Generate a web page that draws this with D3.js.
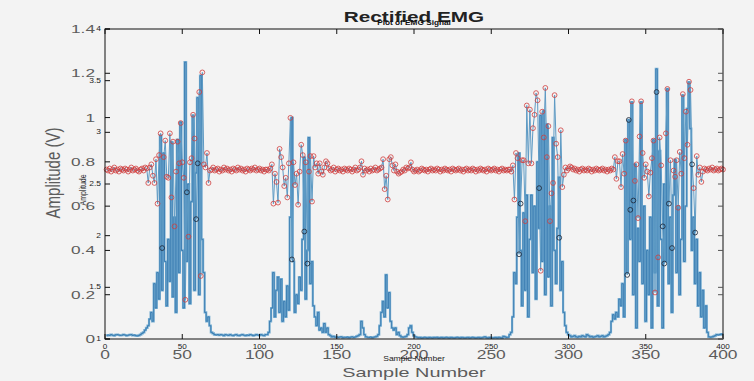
<!DOCTYPE html>
<html><head><meta charset="utf-8">
<script src="https://cdn.jsdelivr.net/npm/d3@7"></script>
<style>html,body{margin:0;padding:0;background:#f3f3f3;}svg{display:block;}</style>
</head><body>
<script>
// ---- data (sample index 1..400) ----
const rawEMG = [
2.64,2.63,2.65,2.62,2.64,2.66,2.63,2.64,2.62,2.65,2.64,2.63,2.65,2.64,2.62,2.64,2.66,2.63,2.64,2.65,2.63,2.62,2.64,2.65,2.63,2.66,2.65,
2.51,2.66,2.69,2.58,2.51,2.74,2.31,2.78,2.99,1.88,2.76,2.92,2.57,2.56,2.99,2.37,2.91,2.09,2.62,2.91,2.70,3.09,2.71,2.56,1.38,2.42,1.99,2.71,2.75,3.17,2.94,2.16,2.70,3.39,1.61,3.58,2.69,2.66,2.80,2.51,2.63,
2.64,2.66,2.63,2.64,2.65,2.62,2.64,2.63,2.66,2.64,2.65,2.63,2.64,2.62,2.65,2.64,2.63,2.66,2.64,2.65,2.63,2.64,2.62,2.65,2.64,2.63,2.65,2.64,2.66,2.63,2.64,2.65,2.63,2.64,2.62,2.64,
2.64,2.63,2.65,2.69,2.31,2.60,2.52,2.32,2.84,2.76,2.66,2.48,2.56,2.37,2.70,3.14,1.77,2.71,2.49,2.60,2.30,2.62,2.88,2.78,2.04,2.71,1.73,2.62,2.77,2.33,2.77,2.66,2.70,2.60,2.70,2.62,2.59,2.66,2.72,2.70,2.65,
2.63,2.64,2.66,2.62,2.64,2.65,2.63,2.64,2.62,2.65,2.64,2.63,2.65,2.64,2.62,2.64,2.66,2.63,2.64,
2.66,2.72,2.59,2.65,2.63,2.64,2.62,2.65,2.63,2.64,2.66,2.63,2.64,2.65,2.66,2.74,2.45,2.58,2.35,2.74,2.76,2.68,2.63,2.69,2.62,2.60,2.61,2.62,2.64,2.63,2.66,2.65,2.66,2.71,2.64,2.62,
2.63,2.64,2.62,2.63,2.65,2.64,2.63,2.64,2.62,2.64,2.65,2.63,2.64,2.63,2.65,2.64,2.62,2.64,2.63,2.65,2.64,2.63,2.64,2.62,2.65,2.64,2.63,2.64,2.65,2.63,2.64,2.62,2.64,2.65,2.63,2.64,2.63,2.65,2.64,2.62,2.64,2.63,2.65,2.64,2.63,2.64,2.62,2.65,2.64,2.63,2.64,2.65,2.63,2.64,2.62,2.64,2.65,2.63,2.64,2.63,2.64,
2.64,2.62,2.68,2.35,2.80,2.75,1.82,2.31,2.73,2.73,2.14,3.26,2.70,3.22,2.70,3.04,3.17,3.38,3.31,2.46,1.66,3.20,2.95,3.43,2.76,3.06,2.14,2.41,2.51,3.36,2.89,2.76,1.98,3.02,2.47,2.59,2.66,2.63,2.65,
2.67,2.66,2.64,2.65,2.63,2.64,2.62,2.64,2.65,2.63,2.64,2.63,2.65,2.64,2.62,2.64,2.63,2.65,2.64,2.63,2.64,2.65,2.63,2.64,2.62,
2.64,2.63,2.65,2.64,2.76,2.55,2.72,2.72,2.47,2.79,2.60,2.92,1.62,3.12,2.25,3.30,2.34,2.53,2.69,2.17,2.96,3.30,2.80,2.56,2.69,2.62,2.38,2.61,2.75,2.92,1.45,3.39,1.79,2.95,2.68,2.09,1.73,2.99,3.42,2.31,2.73,1.88,2.63,2.57,2.73,2.27,2.81,2.60,3.37,2.75,3.20,2.88,3.49,3.41,2.69,2.46,2.03,2.77,2.59,2.66,2.52,2.62,2.65,2.64,2.63,
2.65,2.64,2.66,2.63,2.64,2.65,2.63,2.64,2.65,2.64
];
const rectified = [
0.015,0.018,0.016,0.02,0.017,0.015,0.019,0.02,0.018,0.016,0.017,0.02,0.018,0.015,0.017,0.019,0.02,0.016,0.018,0.015,0.014,0.016,0.02,0.025,0.03,0.04,0.05,
0.06,0.09,0.12,0.08,0.25,0.14,0.30,0.18,0.92,0.22,0.84,0.35,0.15,0.45,0.26,0.89,0.19,0.55,0.12,0.90,0.30,0.98,0.40,0.14,1.25,0.35,0.70,0.16,0.62,1.01,0.22,0.75,1.09,0.20,1.19,0.45,0.30,0.12,0.08,0.10,0.06,
0.03,0.025,0.02,0.018,0.02,0.017,0.02,0.018,0.015,0.02,0.018,0.016,0.02,0.017,0.015,0.018,0.02,0.016,0.015,0.018,0.02,0.017,0.015,0.018,0.016,0.02,0.018,0.015,0.017,0.02,0.018,0.016,0.02,0.017,0.015,0.02,
0.02,0.03,0.08,0.14,0.30,0.10,0.22,0.28,0.12,0.27,0.08,0.17,0.10,0.24,0.13,0.55,1.00,0.35,0.12,0.20,0.16,0.28,0.22,0.45,0.82,0.18,0.40,0.91,0.25,0.35,0.15,0.10,0.06,0.12,0.04,0.05,0.03,0.07,0.03,0.05,0.02,
0.015,0.01,0.012,0.008,0.01,0.007,0.009,0.01,0.006,0.008,0.007,0.009,0.006,0.008,0.01,0.007,0.009,0.012,0.015,
0.02,0.08,0.05,0.02,0.01,0.008,0.007,0.009,0.006,0.008,0.01,0.012,0.02,0.06,0.12,0.17,0.10,0.29,0.14,0.21,0.08,0.05,0.04,0.05,0.02,0.03,0.015,0.01,0.008,0.01,0.012,0.02,0.05,0.06,0.03,0.015,
0.01,0.008,0.006,0.007,0.005,0.006,0.008,0.006,0.005,0.007,0.006,0.005,0.007,0.006,0.008,0.005,0.006,0.007,0.005,0.006,0.008,0.006,0.005,0.007,0.006,0.005,0.006,0.008,0.006,0.005,0.007,0.006,0.005,0.006,0.007,0.005,0.006,0.008,0.006,0.005,0.006,0.007,0.005,0.006,0.008,0.01,0.006,0.005,0.007,0.006,0.005,0.006,0.007,0.005,0.008,0.006,0.005,0.012,0.01,0.007,0.008,
0.02,0.03,0.10,0.30,0.25,0.55,0.84,0.40,0.15,0.57,0.22,0.65,0.10,0.45,0.65,0.30,0.60,0.18,0.80,0.50,1.01,0.35,1.03,0.20,0.97,0.28,0.60,0.15,0.91,0.40,0.25,0.50,0.73,0.22,0.35,0.12,0.06,0.03,0.02,
0.015,0.01,0.012,0.015,0.01,0.008,0.012,0.01,0.015,0.012,0.01,0.02,0.015,0.01,0.012,0.008,0.01,0.012,0.015,0.01,0.012,0.015,0.01,0.012,0.015,
0.02,0.03,0.08,0.11,0.09,0.12,0.10,0.18,0.15,0.25,0.10,0.90,0.30,0.99,0.45,1.07,0.20,0.79,0.05,0.50,0.35,1.07,0.25,0.60,0.08,0.40,0.20,0.55,0.05,0.90,0.30,1.22,0.15,0.85,0.45,0.05,0.70,0.35,1.13,0.25,0.55,0.12,0.65,0.81,0.30,0.60,0.20,0.45,1.10,0.35,0.60,1.04,1.16,0.95,0.40,0.55,0.25,0.45,0.15,0.30,0.10,0.22,0.05,0.15,0.03,
0.01,0.008,0.01,0.012,0.015,0.02,0.018,0.02,0.022,0.02
];
const darkMarkers = [37,53,59,60,121,129,131,268,269,281,294,338,339,340,342,357,361,362,365,367,380,382];
const xTicks = [0,50,100,150,200,250,300,350,400];
const yTicksOuter = [0,0.2,0.4,0.6,0.8,1,1.2,1.4];
const yTicksInner = [1,1.5,2,2.5,3,3.5,4];
const titleMain = "Rectified EMG";
const titleInner = "Plot of EMG Signal";
const xLabel = "Sample Number";
const yLabel = "Amplitude (V)";
const yLabelInner = "Amplitude";

// ---- layout ----
const W = 754, H = 381;
const L = 105, R = 723, T = 29, B = 339;
const FONT = "'Liberation Sans', Arial, sans-serif";
const svg = d3.select("body").append("svg").attr("width", W).attr("height", H);
svg.append("rect").attr("width", W).attr("height", H).attr("fill", "#f3f3f3");

const x = d3.scaleLinear().domain([0, 400]).range([L, R]);
const yO = d3.scaleLinear().domain([0, 1.4]).range([B, T]);
const yI = d3.scaleLinear().domain([1, 4]).range([B, T]);

const plot = svg.append("g");
// rectified EMG (stairs)
const stair = d3.line().x((d, i) => x(i + 1)).y(d => yO(d)).curve(d3.curveStep);
plot.append("path").datum(rectified).attr("d", stair).attr("fill", "none")
  .attr("stroke", "#78afd3").attr("stroke-width", 2.2);
plot.append("path").datum(rectified).attr("d", stair).attr("fill", "none")
  .attr("stroke", "#2e72ab").attr("stroke-width", 0.9).attr("opacity", 0.85);

// raw EMG line and markers
const rawLine = d3.line().x((d, i) => x(i + 1)).y(d => yI(d));
plot.append("path").datum(rawEMG).attr("d", rawLine).attr("fill", "none")
  .attr("stroke", "#5d9ac4").attr("stroke-width", 1);
const darkSet = new Set(darkMarkers);
plot.selectAll("circle.m").data(rawEMG).join("circle").attr("class", "m")
  .attr("cx", (d, i) => x(i + 1)).attr("cy", d => yI(d)).attr("r", 2.4)
  .attr("fill", "none")
  .attr("stroke", (d, i) => darkSet.has(i + 1) ? "#1b2333" : "#cf3f3f")
  .attr("stroke-width", 0.8);

// ---- axes box & ticks ----
const ax = svg.append("g").attr("stroke", "#111").attr("stroke-width", 1).attr("fill", "none");
ax.append("rect").attr("x", L).attr("y", T).attr("width", R - L).attr("height", B - T);
const tl = 5;
xTicks.forEach(v => {
  ax.append("line").attr("x1", x(v)).attr("x2", x(v)).attr("y1", B).attr("y2", B - tl);
  ax.append("line").attr("x1", x(v)).attr("x2", x(v)).attr("y1", T).attr("y2", T + tl);
});
yTicksOuter.forEach(v => {
  ax.append("line").attr("x1", L).attr("x2", L + tl).attr("y1", yO(v)).attr("y2", yO(v));
  ax.append("line").attr("x1", R).attr("x2", R - tl).attr("y1", yO(v)).attr("y2", yO(v)).attr("stroke", "#555");
});
yTicksInner.forEach(v => {
  ax.append("line").attr("x1", L).attr("x2", L + tl).attr("y1", yI(v)).attr("y2", yI(v));
  ax.append("line").attr("x1", R).attr("x2", R - tl).attr("y1", yI(v)).attr("y2", yI(v)).attr("stroke", "#555");
});

// ---- text helper (the source picture is stretched horizontally) ----
function label(px, py, str, o) {
  const t = svg.append("text")
    .attr("transform", `translate(${px},${py}) scale(${o.sx || 1},1)` + (o.rot ? " rotate(-90)" : ""))
    .attr("text-anchor", o.anchor || "middle")
    .attr("font-family", FONT).attr("font-size", o.size)
    .attr("font-weight", o.weight || "normal")
    .attr("fill", o.fill || "#111").text(str);
  return t;
}
const fmt = v => String(v);
// big outer tick labels
yTicksOuter.forEach(v => label(95, yO(v) + 4, fmt(v), {size: 11.5, sx: 1.5, anchor: "end", fill: "#5c5c5c"}));
xTicks.forEach(v => label(x(v), 359, fmt(v), {size: 12, sx: 1.45, fill: "#5c5c5c"}));
// small inner tick labels
yTicksInner.forEach(v => label(101, yI(v) + 2, fmt(v), {size: 6.5, sx: 1.3, anchor: "end", fill: "#222"}));
xTicks.forEach(v => label(x(v), 348.5, fmt(v), {size: 6.5, sx: 1.25, fill: "#222"}));
// axis labels
label(414, 377, xLabel, {size: 13.5, sx: 1.47, fill: "#5c5c5c"});
label(414, 360.5, xLabel, {size: 7, sx: 1.22, fill: "#222"});
label(60, 173, yLabel, {size: 15, sx: 1.3, rot: true, fill: "#5c5c5c"});
label(86, 190, yLabelInner, {size: 7, sx: 1.2, rot: true, fill: "#222"});
// titles
label(414, 22, titleMain, {size: 14, sx: 1.48, weight: "bold", fill: "#222"});
label(414, 24.5, titleInner, {size: 7, sx: 1.18, weight: "bold", fill: "#111"});
</script>
</body></html>
